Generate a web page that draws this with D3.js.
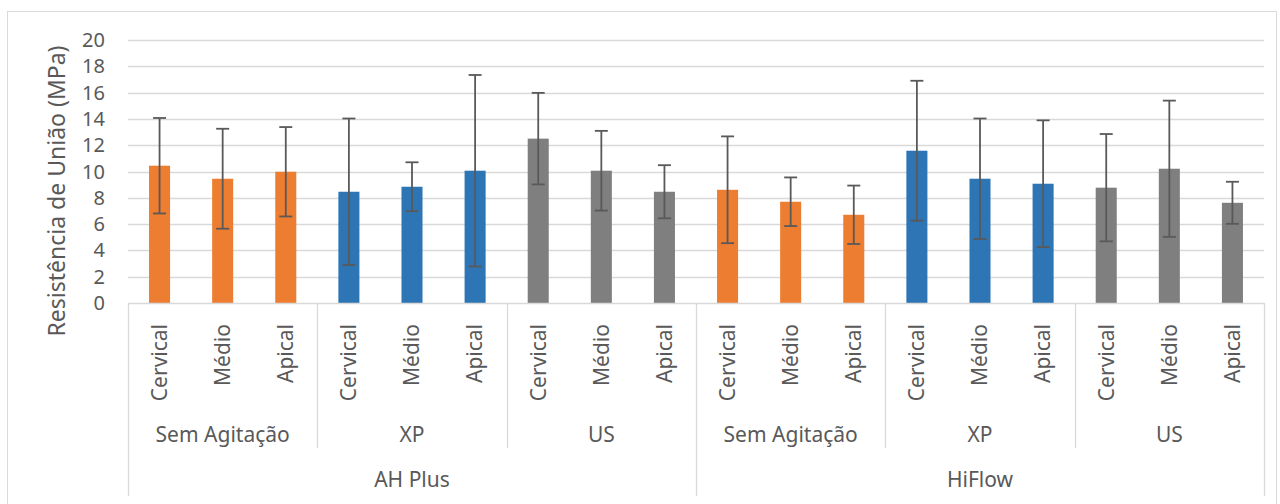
<!DOCTYPE html>
<html>
<head>
<meta charset="utf-8">
<script src="https://cdn.jsdelivr.net/npm/d3@7"></script>
<style>
  body { margin: 0; background: #fff; }
  text { font-family: "Segoe UI", "Noto Sans", sans-serif; fill: #595959; }
</style>
</head>
<body>
<div id="chart"></div>
<script>
// Data
var cements = ["AH Plus", "HiFlow"];
var agitations = ["Sem Agitação", "XP", "US"];
var thirds = ["Cervical", "Médio", "Apical"];
var means = [10.44, 9.45, 9.98, 8.46, 8.84, 10.06, 12.5, 10.06, 8.46,
             8.61, 7.7, 6.71, 11.58, 9.45, 9.07, 8.77, 10.21, 7.62];
var sds = [3.63, 3.8, 3.4, 5.57, 1.86, 7.28, 3.48, 3.03, 2.02,
           4.06, 1.85, 2.22, 5.32, 4.58, 4.82, 4.08, 5.18, 1.6];
var yTicks = [0, 2, 4, 6, 8, 10, 12, 14, 16, 18, 20];
var agitationColors = ["#ED7D31", "#2E75B6", "#7F7F7F"];

var width = 1280, height = 504;
var plotLeft = 128, plotRight = 1264, plotTop = 40, plotBottom = 303;

// flatten into rows
var rows = [];
cements.forEach(function(c) {
    agitations.forEach(function(a, ai) {
        thirds.forEach(function(t) {
            var i = rows.length;
            rows.push({key: i, cement: c, agitation: a, ai: ai, third: t, mean: means[i], sd: sds[i]});
        });
    });
});

var svg = d3.select("#chart").append("svg")
    .attr("width", width)
    .attr("height", height);

// chart border
svg.append("rect")
    .attr("x", 7.5).attr("y", 11.5)
    .attr("width", 1269).attr("height", 510)
    .attr("fill", "none")
    .attr("stroke", "#d9d9d9");

var x = d3.scaleBand()
    .domain(rows.map(function(d) { return d.key; }))
    .range([plotLeft, plotRight])
    .padding(0);

var y = d3.scaleLinear()
    .domain([0, 20])
    .range([plotBottom, plotTop]);

var bw = x.bandwidth();

// gridlines
svg.append("g").selectAll("line")
    .data(yTicks.slice(1))
    .enter().append("line")
        .attr("x1", plotLeft).attr("x2", plotRight)
        .attr("y1", function(d) { return Math.round(y(d)) + 0.5; })
        .attr("y2", function(d) { return Math.round(y(d)) + 0.5; })
        .attr("stroke", "#d9d9d9")
        .attr("stroke-width", 1.3);

// y tick labels
svg.append("g").selectAll("text")
    .data(yTicks)
    .enter().append("text")
        .attr("x", 105)
        .attr("y", function(d) { return y(d); })
        .attr("dy", "0.35em")
        .style("text-anchor", "end")
        .style("font-size", "20px")
        .text(function(d) { return d; });

// y axis title
svg.append("text")
    .attr("transform", "translate(57,191)rotate(-90)")
    .attr("dy", "0.35em")
    .style("text-anchor", "middle")
    .style("font-size", "23px")
    .text("Resistência de União (MPa)");

// bars
svg.append("g").selectAll("rect")
    .data(rows)
    .enter().append("rect")
        .attr("x", function(d) { return x(d.key) + bw / 3; })
        .attr("y", function(d) { return y(d.mean); })
        .attr("width", bw / 3)
        .attr("height", function(d) { return y(0) - y(d.mean); })
        .attr("fill", function(d) { return agitationColors[d.ai]; });

// error bars
var err = svg.append("g")
    .attr("stroke", "#595959")
    .attr("stroke-width", 1.8);

rows.forEach(function(d) {
    var cx = x(d.key) + bw / 2;
    var y1 = y(d.mean + d.sd), y0 = y(d.mean - d.sd);
    err.append("line").attr("x1", cx).attr("x2", cx).attr("y1", y1).attr("y2", y0);
    err.append("line").attr("x1", cx - 6.5).attr("x2", cx + 6.5).attr("y1", y1).attr("y2", y1);
    err.append("line").attr("x1", cx - 6.5).attr("x2", cx + 6.5).attr("y1", y0).attr("y2", y0);
});

// category axis
var axis = svg.append("g")
    .attr("stroke", "#d9d9d9")
    .attr("stroke-width", 1.3);

axis.append("line")
    .attr("x1", plotLeft).attr("x2", plotRight)
    .attr("y1", plotBottom + 0.5).attr("y2", plotBottom + 0.5);

// dividers between agitation groups (short) and cement groups (long)
for (var i = 0; i <= rows.length; i += 3) {
    var xx = i < rows.length ? x(i) : plotRight;
    var outer = i % 9 === 0;
    axis.append("line")
        .attr("x1", Math.round(xx) + 0.5).attr("x2", Math.round(xx) + 0.5)
        .attr("y1", plotBottom)
        .attr("y2", outer ? 496 : 448);
}

// level 1 labels
svg.append("g").selectAll("text")
    .data(rows)
    .enter().append("text")
        .attr("transform", function(d) { return "translate(" + (x(d.key) + bw / 2) + ",324)rotate(-90)"; })
        .attr("dy", "0.35em")
        .style("text-anchor", "end")
        .style("font-size", "21px")
        .text(function(d) { return d.third; });

// level 2 labels
var agRows = [];
cements.forEach(function(c, ci) {
    agitations.forEach(function(a, ai) {
        agRows.push({name: a, start: (ci * 3 + ai) * 3});
    });
});

svg.append("g").selectAll("text")
    .data(agRows)
    .enter().append("text")
        .attr("x", function(d) { return x(d.start) + bw * 1.5; })
        .attr("y", 435)
        .attr("dy", "0.35em")
        .style("text-anchor", "middle")
        .style("font-size", "21px")
        .text(function(d) { return d.name; });

// level 3 labels
svg.append("g").selectAll("text")
    .data(cements)
    .enter().append("text")
        .attr("x", function(d, i) { return x(i * 9) + bw * 4.5; })
        .attr("y", 480)
        .attr("dy", "0.35em")
        .style("text-anchor", "middle")
        .style("font-size", "21px")
        .text(function(d) { return d; });
</script>
</body>
</html>
